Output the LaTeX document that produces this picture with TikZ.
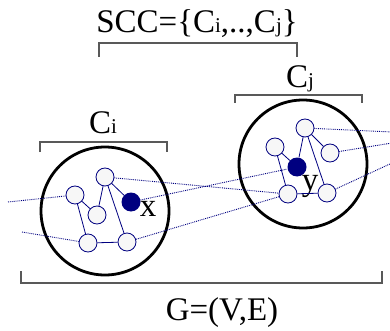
\documentclass[tikz,border=0pt]{standalone}
\usepackage{fontspec}
\setmainfont{Liberation Serif}
\definecolor{navy}{RGB}{0,0,128}
\tikzset{
  vertex/.style={circle, draw=navy, fill=black!3, line width=0.8pt, minimum size=18pt, inner sep=0pt},
  hub/.style={circle, fill=navy, minimum size=19pt, inner sep=0pt},
  cluster/.style={circle, draw=black, line width=2.8pt, minimum size=128pt, inner sep=0pt},
  edge/.style={draw=navy, line width=0.8pt},
  link/.style={draw=navy, densely dotted, line width=0.9pt},
  bracket/.style={draw=black!65, line width=1.3pt},
  label/.style={font=\fontsize{33}{38}\selectfont, inner sep=0pt, anchor=base}
}
\newcommand{\sub}[1]{{\fontsize{21}{21}\selectfont #1}}
\begin{document}
\begin{tikzpicture}[x=1pt, y=-1pt]
    \useasboundingbox (0,0) rectangle (390,331);

    % Components
    \node[cluster] (ci) at (105,211) {};
    \node[cluster] (cj) at (303,164) {};

    % Vertices of C_i
    \node[vertex] (a) at (105,177) {};
    \node[vertex] (b) at (75,195) {};
    \node[vertex] (c) at (97,215) {};
    \node[hub] (x) at (131,202) {};
    \node[vertex] (d) at (88,243) {};
    \node[vertex] (e) at (127,242) {};
    \node[label] at (148,216) {x};

    % Vertices of C_j
    \node[vertex] (p) at (305,128) {};
    \node[vertex] (q) at (275,147) {};
    \node[vertex] (r) at (330,153) {};
    \node[hub] (y) at (297,167) {};
    \node[vertex] (s) at (288,194) {};
    \node[vertex] (t) at (327,193) {};
    \node[label] at (310,190) {y};

    % Edges inside the components
    \draw[edge] (a) -- (c) (a) -- (x) (a) -- (e) (b) -- (c) (b) -- (d) (d) -- (e);
    \draw[edge] (p) -- (y) (p) -- (r) (p) -- (t) (q) -- (y) (q) -- (s) (s) -- (t);

    % Edges between components
    \coordinate (w1) at (8,202);
    \coordinate (w2) at (22,232);
    \coordinate (e1) at (392,132);
    \coordinate (e2) at (392,143);
    \coordinate (e3) at (392,163);
    \draw[link] (w1) -- (b) (w2) -- (d);
    \draw[link] (a) -- (s) (x) -- (y) (e) -- (s);
    \draw[link] (p) -- (e1) (r) -- (e2) (t) -- (e3);

    % Brackets
    \draw[bracket] (40,152) |- (167,142) -- (167,152);
    \draw[bracket] (235,103) |- (362,95) -- (362,103);
    \draw[bracket] (99,57) |- (297,43) -- (297,57);
    \draw[bracket] (21,271) |- (382,283) -- (382,271);

    % Labels
    \node[label] (li) at (103,134) {C\sub{i}};
    \node[label] (lj) at (300,88) {C\sub{j}};
    \node[label] (lscc) at (197,33) {SCC=\{C\sub{i},..,C\sub{j}\}};
    \node[label] (lg) at (222,320) {G=(V,E)};
\end{tikzpicture}
\end{document}
